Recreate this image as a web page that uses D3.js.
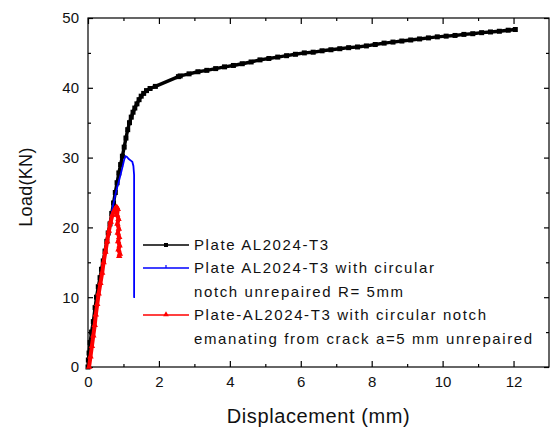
<!DOCTYPE html>
<html>
<head>
<meta charset="utf-8">
<script src="https://cdn.jsdelivr.net/npm/d3@7/dist/d3.min.js"></script>
<style>
  html, body { margin: 0; padding: 0; background: #fff; }
  svg { display: block; }
  text { font-family: "Liberation Sans", Arial, sans-serif; fill: #111; }
</style>
</head>
<body>
<svg id="chart" width="550" height="427"></svg>
<script>
// Load–displacement curves (displacement in mm, load in kN)
const plateDisp = [0,0.01,0.03,0.06,0.1,0.15,0.2,0.24,0.29,0.34,0.38,0.43,0.48,0.53,0.57,0.62,0.67,0.72,0.77,0.82,0.87,0.92,0.97,1.02,1.07,1.12,1.17,1.22,1.27,1.32,1.38,1.44,1.5,1.57,1.65,1.75,1.9,2.55,
  2.6,2.85,3.1,3.35,3.6,3.85,4.1,4.35,4.6,4.85,5.1,5.35,5.6,5.85,6.1,6.35,6.6,6.85,7.1,7.35,7.6,7.85,8.1,8.35,8.6,8.85,9.1,9.35,9.6,9.85,10.1,10.35,10.6,10.85,11.1,11.35,11.6,11.85,12.05];
const plateLoad = [0,1,2,3.5,5,6.5,8.5,10,11.5,12.8,14,15.2,16.6,18,19.2,20.5,22,23.5,25,26.4,27.8,29,30.2,31.5,32.8,34,35,35.8,36.5,37.1,37.7,38.3,38.8,39.2,39.6,39.9,40.2,41.6,
  41.7,42.0,42.3,42.5,42.75,43.0,43.2,43.45,43.7,44.0,44.2,44.4,44.6,44.8,45.0,45.1,45.3,45.45,45.6,45.75,45.85,46.0,46.2,46.4,46.55,46.7,46.85,47.0,47.15,47.3,47.4,47.5,47.65,47.75,47.9,48.0,48.1,48.25,48.35];

const notchDisp = [0.02,0.1,0.2,0.3,0.4,0.5,0.6,0.7,0.8,0.9,0.97,1.02,1.06,1.1,1.15,1.2,1.25,1.28,1.3,1.3,1.28];
const notchLoad = [0,3,6.5,10,13.5,17,20,23,25.3,27.2,28.6,29.7,30.2,30.1,29.8,29.6,29.4,28.8,27.5,10.0,10.0];

const crackDisp = [0.03,0.07,0.11,0.15,0.19,0.22,0.26,0.3,0.35,0.4,0.44,0.49,0.54,0.59,0.64,0.69,0.74,0.78,0.81,0.84,0.82,0.86,0.83,0.87,0.84,0.88,0.85,0.89,0.86,0.9,0.88];
const crackLoad = [0,1.5,3,4.5,6,7.5,9,10.5,12,13.5,15,16.5,18,19.5,20.8,21.8,22.4,22.8,22.9,22.6,21.8,21.2,20.5,19.8,19.2,18.6,18.0,17.4,16.8,16.2,15.9];

const xMajor = [0,2,4,6,8,10,12];
const xMinor = [1,3,5,7,9,11];
const yMajor = [0,10,20,30,40,50];
const yMinor = [5,15,25,35,45];

const legendLabels = [
  ["Plate AL2024-T3"],
  ["Plate AL2024-T3 with circular", "notch unrepaired R= 5mm"],
  ["Plate-AL2024-T3 with circular notch", "emanating from crack a=5 mm unrepaired"]
];
const seriesColors = ["#000000", "#0000ff", "#ff0000"];

const svg = d3.select("#chart");
const plotLeft = 88, plotRight = 549, plotTop = 18, plotBottom = 367;

const x = d3.scaleLinear().domain([0, 13]).range([plotLeft, plotRight]);
const y = d3.scaleLinear().domain([0, 50]).range([plotBottom, plotTop]);

// frame
svg.append("rect")
  .attr("x", plotLeft).attr("y", plotTop)
  .attr("width", plotRight - plotLeft).attr("height", plotBottom - plotTop)
  .attr("fill", "none").attr("stroke", "#000").attr("stroke-width", 1.2);

function styleAxis(g) {
  g.select(".domain").remove();
  g.selectAll(".tick line").attr("stroke", "#000").attr("stroke-width", 1.2);
  g.selectAll(".tick text").attr("font-size", 15).style("font-family", '"Liberation Sans", Arial, sans-serif').attr("fill", "#111");
}

// major ticks with labels (bottom / left), mirrored ticks on top / right
svg.append("g").attr("transform", `translate(0,${plotBottom})`)
  .call(d3.axisBottom(x).tickValues(xMajor).tickSizeInner(-6).tickSizeOuter(0).tickPadding(9).tickFormat(d3.format("d")))
  .call(styleAxis);
svg.append("g").attr("transform", `translate(0,${plotBottom})`)
  .call(d3.axisBottom(x).tickValues(xMinor).tickSizeInner(-3).tickSizeOuter(0).tickFormat(""))
  .call(styleAxis);
svg.append("g").attr("transform", `translate(0,${plotTop})`)
  .call(d3.axisTop(x).tickValues(xMajor).tickSizeInner(-6).tickSizeOuter(0).tickFormat(""))
  .call(styleAxis);
svg.append("g").attr("transform", `translate(0,${plotTop})`)
  .call(d3.axisTop(x).tickValues(xMinor).tickSizeInner(-3).tickSizeOuter(0).tickFormat(""))
  .call(styleAxis);

svg.append("g").attr("transform", `translate(${plotLeft},0)`)
  .call(d3.axisLeft(y).tickValues(yMajor).tickSizeInner(-5).tickSizeOuter(0).tickPadding(9).tickFormat(d3.format("d")))
  .call(styleAxis);
svg.append("g").attr("transform", `translate(${plotLeft},0)`)
  .call(d3.axisLeft(y).tickValues(yMinor).tickSizeInner(-3).tickSizeOuter(0).tickFormat(""))
  .call(styleAxis);
svg.append("g").attr("transform", `translate(${plotRight},0)`)
  .call(d3.axisRight(y).tickValues(yMajor).tickSizeInner(-5).tickSizeOuter(0).tickFormat(""))
  .call(styleAxis);
svg.append("g").attr("transform", `translate(${plotRight},0)`)
  .call(d3.axisRight(y).tickValues(yMinor).tickSizeInner(-3).tickSizeOuter(0).tickFormat(""))
  .call(styleAxis);

// axis titles
svg.append("text")
  .attr("x", (plotLeft + plotRight) / 2).attr("y", 423)
  .attr("text-anchor", "middle").attr("font-size", 20).attr("letter-spacing", 0.6)
  .text("Displacement (mm)");
svg.append("text")
  .attr("transform", "translate(32,187) rotate(-90)")
  .attr("text-anchor", "middle").attr("font-size", 18).attr("letter-spacing", 0.3)
  .text("Load(KN)");

// curves
const line = d3.line().x(d => x(d[0])).y(d => y(d[1]));
const plate = d3.zip(plateDisp, plateLoad);
const notch = d3.zip(notchDisp, notchLoad);
const crack = d3.zip(crackDisp, crackLoad);

const plot = svg.append("g");

plot.append("path").datum(plate).attr("d", line)
  .attr("fill", "none").attr("stroke", seriesColors[0]).attr("stroke-width", 3.4)
  .attr("stroke-linejoin", "round");
plot.selectAll(".sq").data(plate).join("rect")
  .attr("x", d => x(d[0]) - 2.5).attr("y", d => y(d[1]) - 2.5)
  .attr("width", 5).attr("height", 5).attr("fill", seriesColors[0]);

plot.append("path").datum(notch).attr("d", line)
  .attr("fill", "none").attr("stroke", seriesColors[1]).attr("stroke-width", 1.8);

const tri = d3.symbol().type(d3.symbolTriangle).size(18);
plot.append("path").datum(crack).attr("d", line)
  .attr("fill", "none").attr("stroke", seriesColors[2]).attr("stroke-width", 4)
  .attr("stroke-linejoin", "round");
plot.selectAll(".tri").data(crack).join("path")
  .attr("transform", d => `translate(${x(d[0])},${y(d[1])})`)
  .attr("d", tri).attr("fill", seriesColors[2]);

// legend
const legendRowY = [245, 268, 315];
const lineGap = 23.5;
const lg = svg.append("g");
legendLabels.forEach((lines, i) => {
  const ly = legendRowY[i];
  lg.append("line").attr("x1", 143).attr("x2", 189).attr("y1", ly).attr("y2", ly)
    .attr("stroke", seriesColors[i]).attr("stroke-width", 1.4);
  if (i === 0) {
    lg.append("rect").attr("x", 164).attr("y", ly - 2).attr("width", 4).attr("height", 4).attr("fill", seriesColors[0]);
  } else if (i === 1) {
    lg.append("line").attr("x1", 166).attr("x2", 166).attr("y1", ly - 3).attr("y2", ly)
      .attr("stroke", seriesColors[1]).attr("stroke-width", 1.2);
  } else {
    lg.append("path").attr("transform", `translate(166,${ly - 0.5})`)
      .attr("d", d3.symbol().type(d3.symbolTriangle).size(14)).attr("fill", seriesColors[2]);
  }
  lines.forEach((t, j) => {
    lg.append("text").attr("x", 194).attr("y", ly + j * lineGap + 5)
      .attr("font-size", 15).attr("letter-spacing", 1.6).text(t);
  });
});
</script>
</body>
</html>
